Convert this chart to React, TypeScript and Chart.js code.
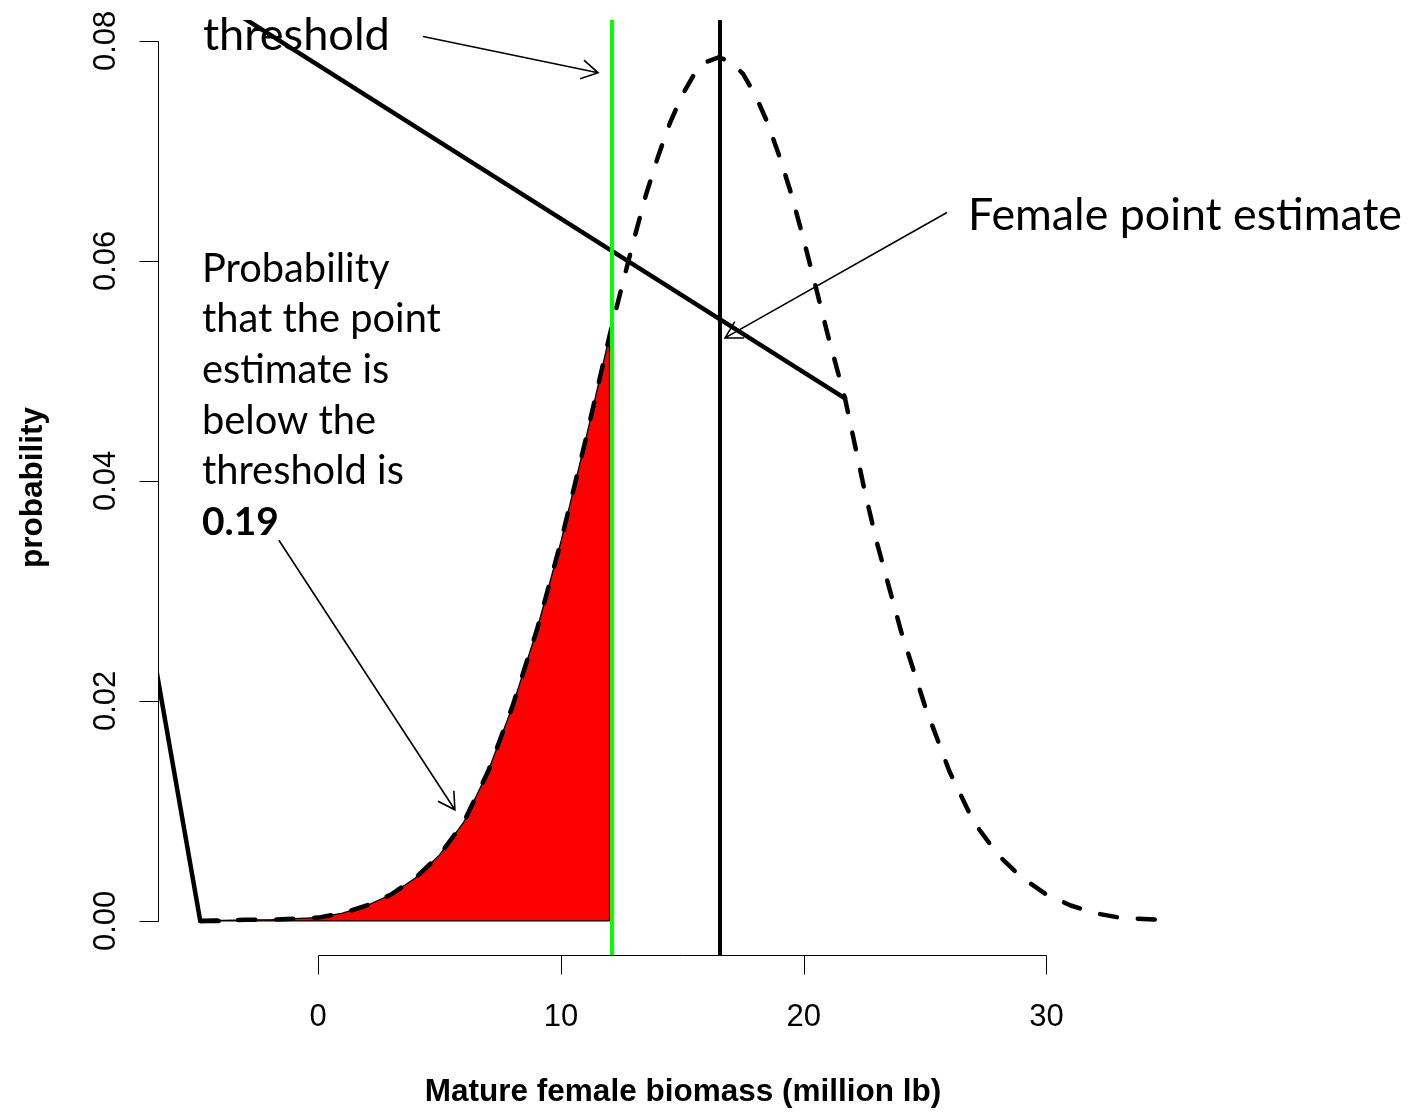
import React, { useEffect, useRef } from "react";
import { Chart, registerables } from "chart.js";

Chart.register(...registerables);

// ---------- data ----------
const densityX = [
  -4.86, -3, -2, -1, 0, 1, 2, 3, 4, 5, 6, 7, 8, 9, 10, 11, 12, 12.5, 13, 13.5, 14, 14.5, 15, 15.5, 16, 16.5,
  17, 17.5, 18, 18.5, 19, 19.5, 20, 20.5, 21, 21.7, 22.5, 23, 24, 25, 26, 27, 28, 29, 30, 31, 32, 33, 34.6,
];
const densityY = [
  0.0, 0.0001, 0.0001, 0.0002, 0.0003, 0.0007, 0.0014, 0.0024, 0.0039, 0.006, 0.009, 0.0136, 0.0195, 0.0264,
  0.0345, 0.0436, 0.0532, 0.0576, 0.0619, 0.066, 0.0695, 0.0726, 0.0751, 0.077, 0.0781, 0.0785, 0.0781, 0.077,
  0.0751, 0.0726, 0.0695, 0.066, 0.0619, 0.0576, 0.0532, 0.0475, 0.0392, 0.0345, 0.0264, 0.0195, 0.0136, 0.009,
  0.006, 0.0039, 0.0024, 0.0014, 0.0007, 0.0003, 0.0001,
];
const shadeEndX = 12;
const thresholdX = 12.1;
const pointEstimateX = 16.55;
const solidPathX = [21.7, -12.4, -4.86, -4.1];
const solidPathY = [0.0475, 0.0951, 0, 0];

const xTicks = [0, 10, 20, 30];
const xTickLabels = ["0", "10", "20", "30"];
const yTicks = [0, 0.02, 0.04, 0.06, 0.08];
const yTickLabels = ["0.00", "0.02", "0.04", "0.06", "0.08"];

const X_MIN = -6.6;
const X_MAX = 36.2;
const Y_MIN = -0.0031;
const Y_MAX = 0.0819;

const xTitle = "Mature female biomass (million lb)";
const yTitle = "probability";
const thresholdLabel = "threshold";
const estimateLabel = "Female point estimate";
const blockLines = ["Probability", "that the point", "estimate is", "below the", "threshold is"];
const blockValue = "0.19";

// annotation anchors in data units
const thresholdLabelAt = [-4.75, 0.0792];
const estimateLabelAt = [26.77, 0.0628];
const blockAt = [-4.79, 0.0581];
const arrowFrom = [
  [4.32, 0.0804],
  [25.9, 0.0644],
  [-1.62, 0.0346],
];
const arrowTo = [
  [11.53, 0.0771],
  [16.76, 0.053],
  [5.63, 0.0101],
];

// ---------- helpers ----------
const pts = (xs: number[], ys: number[]) => xs.map((x, i) => ({ x, y: ys[i] }));

const ANNOT_FAMILY = 'Lato, "Open Sans", sans-serif';
const AXIS_FAMILY = '"Liberation Sans", Arial, Helvetica, sans-serif';

function fitSize(ctx: CanvasRenderingContext2D, text: string, target: number, weight: string) {
  ctx.font = `${weight} 100px ${ANNOT_FAMILY}`;
  const w = ctx.measureText(text).width;
  return (100 * target) / w;
}

function arrow(ctx: CanvasRenderingContext2D, x1: number, y1: number, x2: number, y2: number) {
  const ang = Math.atan2(y2 - y1, x2 - x1);
  const L = 19;
  const a = Math.PI / 6;
  ctx.beginPath();
  ctx.moveTo(x1, y1);
  ctx.lineTo(x2, y2);
  ctx.moveTo(x2 - L * Math.cos(ang - a), y2 - L * Math.sin(ang - a));
  ctx.lineTo(x2, y2);
  ctx.lineTo(x2 - L * Math.cos(ang + a), y2 - L * Math.sin(ang + a));
  ctx.stroke();
}

const overlay = {
  id: "overlay",
  afterDraw(chart: any) {
    const { ctx, chartArea } = chart;
    const xs = chart.scales.x;
    const ys = chart.scales.y;
    const px = (v: number) => xs.getPixelForValue(v);
    const py = (v: number) => ys.getPixelForValue(v);
    ctx.save();
    ctx.strokeStyle = "#000";
    ctx.fillStyle = "#000";
    ctx.lineWidth = 1;
    ctx.lineCap = "butt";

    // y axis
    const ax = Math.round(chartArea.left) + 0.5;
    ctx.beginPath();
    ctx.moveTo(ax, Math.round(py(yTicks[0])) + 0.5);
    ctx.lineTo(ax, Math.round(py(yTicks[yTicks.length - 1])) + 0.5);
    yTicks.forEach((t) => {
      const yy = Math.round(py(t)) + 0.5;
      ctx.moveTo(ax, yy);
      ctx.lineTo(ax - 19, yy);
    });
    ctx.stroke();
    ctx.font = `31px ${AXIS_FAMILY}`;
    ctx.textAlign = "center";
    ctx.textBaseline = "alphabetic";
    yTicks.forEach((t, i) => {
      ctx.save();
      ctx.translate(chartArea.left - 43, py(t));
      ctx.rotate(-Math.PI / 2);
      ctx.fillText(yTickLabels[i], 0, 0);
      ctx.restore();
    });

    // x axis
    const ay = Math.round(chartArea.bottom) + 0.5;
    ctx.beginPath();
    ctx.moveTo(Math.round(px(xTicks[0])) + 0.5, ay);
    ctx.lineTo(Math.round(px(xTicks[xTicks.length - 1])) + 0.5, ay);
    xTicks.forEach((t) => {
      const xx = Math.round(px(t)) + 0.5;
      ctx.moveTo(xx, ay);
      ctx.lineTo(xx, ay + 19);
    });
    ctx.stroke();
    xTicks.forEach((t, i) => {
      ctx.fillText(xTickLabels[i], px(t), chartArea.bottom + 71);
    });

    // axis titles
    ctx.font = `bold 31.5px ${AXIS_FAMILY}`;
    ctx.fillText(xTitle, 683, chartArea.bottom + 146);
    ctx.save();
    ctx.translate(42, (chartArea.top + chartArea.bottom) / 2);
    ctx.rotate(-Math.PI / 2);
    ctx.fillText(yTitle, 0, 0);
    ctx.restore();

    // annotations
    ctx.textAlign = "left";
    const topSize = fitSize(ctx, thresholdLabel, 187, "normal");
    ctx.font = `${topSize}px ${ANNOT_FAMILY}`;
    ctx.fillText(thresholdLabel, px(thresholdLabelAt[0]), py(thresholdLabelAt[1]));
    const estSize = fitSize(ctx, estimateLabel, 434, "normal");
    ctx.font = `${estSize}px ${ANNOT_FAMILY}`;
    ctx.fillText(estimateLabel, px(estimateLabelAt[0]), py(estimateLabelAt[1]));

    const blockSize = fitSize(ctx, blockLines[1], 239, "normal");
    ctx.font = `${blockSize}px ${ANNOT_FAMILY}`;
    const bx = px(blockAt[0]);
    const by = py(blockAt[1]);
    const step = 50.6;
    blockLines.forEach((l, i) => ctx.fillText(l, bx, by + i * step));
    const valSize = fitSize(ctx, blockValue, 77, "bold");
    ctx.font = `bold ${valSize}px ${ANNOT_FAMILY}`;
    ctx.fillText(blockValue, bx, by + blockLines.length * step);

    ctx.lineWidth = 1.6;
    arrowFrom.forEach((f, i) => {
      arrow(ctx, px(f[0]), py(f[1]), px(arrowTo[i][0]), py(arrowTo[i][1]));
    });
    ctx.restore();
  },
};

export default function App() {
  const ref = useRef<HTMLCanvasElement | null>(null);
  useEffect(() => {
    if (!ref.current) return;
    const density = pts(densityX, densityY);
    const shade = density.filter((p) => p.x <= shadeEndX);
    shade.push({ x: shadeEndX, y: 0 });
    const baseline = [
      { x: shadeEndX, y: 0 },
      { x: densityX[0], y: 0 },
    ];
    const chart = new Chart(ref.current, {
      type: "scatter",
      data: {
        datasets: [
          {
            data: [
              { x: thresholdX, y: Y_MIN },
              { x: thresholdX, y: Y_MAX },
            ],
            showLine: true,
            borderColor: "#00ff00",
            borderWidth: 4,
            pointRadius: 0,
            order: 0,
          },
          {
            data: [
              { x: pointEstimateX, y: Y_MIN },
              { x: pointEstimateX, y: Y_MAX },
            ],
            showLine: true,
            borderColor: "#000",
            borderWidth: 4,
            pointRadius: 0,
            order: 1,
          },
          {
            data: density,
            showLine: true,
            borderColor: "#000",
            borderWidth: 4.5,
            borderDash: [17, 21],
            borderCapStyle: "round",
            borderJoinStyle: "round",
            pointRadius: 0,
            order: 2,
          },
          {
            data: pts(solidPathX, solidPathY),
            showLine: true,
            borderColor: "#000",
            borderWidth: 4.5,
            borderJoinStyle: "round",
            borderCapStyle: "round",
            pointRadius: 0,
            order: 3,
          },
          {
            data: baseline,
            showLine: true,
            borderColor: "#000",
            borderWidth: 1.3,
            pointRadius: 0,
            order: 4,
          },
          {
            data: shade,
            showLine: true,
            borderColor: "#000",
            borderWidth: 1.3,
            backgroundColor: "#ff0000",
            fill: "origin",
            pointRadius: 0,
            order: 5,
          },
        ],
      },
      options: {
        responsive: false,
        animation: false,
        events: [],
        layout: { padding: { left: 158, right: 221, top: 20, bottom: 158 } },
        scales: {
          x: { type: "linear", min: X_MIN, max: X_MAX, display: false },
          y: { type: "linear", min: Y_MIN, max: Y_MAX, display: false },
        },
        plugins: { legend: { display: false }, tooltip: { enabled: false } },
      } as any,
      plugins: [overlay],
    });
    return () => chart.destroy();
  }, []);
  return (
    <div style={{ position: "absolute", left: 0, top: 0, width: 1418, height: 1113, background: "#fff" }}>
      <canvas ref={ref} width={1418} height={1113} style={{ display: "block", width: 1418, height: 1113 }} />
    </div>
  );
}
